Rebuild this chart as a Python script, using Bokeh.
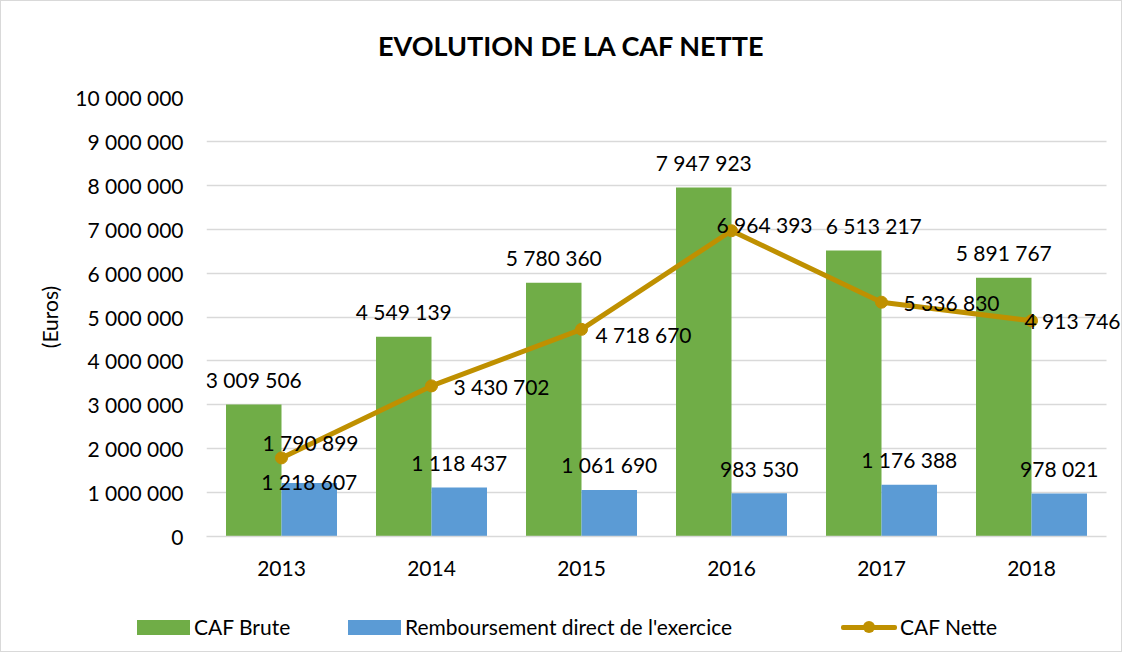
from bokeh.plotting import figure
from bokeh.layouts import column
from bokeh.models import ColumnDataSource, FixedTicker, Range1d, Div
from bokeh.transform import dodge
from bokeh.embed import file_html
from bokeh.resources import INLINE
from bokeh.core.properties import value

# ---- data ----
title_text = "EVOLUTION DE LA CAF NETTE"
years = ["2013", "2014", "2015", "2016", "2017", "2018"]
caf_brute = [3009506, 4549139, 5780360, 7947923, 6513217, 5891767]
remboursement = [1218607, 1118437, 1061690, 983530, 1176388, 978021]
caf_nette = [1790899, 3430702, 4718670, 6964393, 5336830, 4913746]
y_ticks = [0, 1000000, 2000000, 3000000, 4000000, 5000000, 6000000, 7000000, 8000000, 9000000, 10000000]
series_names = ["CAF Brute", "Remboursement direct de l'exercice", "CAF Nette"]

# ---- label placement (style) ----
brute_label_dx = [0, 0, 0, 0, 20, 0]
brute_label_dy = [-25, -25, -25, -25, -25, -25]
remb_label_dy = [-2, -25, -25, -25, -25, -25]
nette_label_dx = [-19, 22, 14, -15, 22, -7]
nette_label_dy = [-15, 1, 5, -6, 0, 0]

def fmt(v):
    return f"{v:,}".replace(",", " ")

FONT = "Lato"
GREEN = "#70AD47"
BLUE = "#5B9BD5"
GOLD = "#BF9000"
GRID = "#D9D9D9"

W = 1120
FRAME_LEFT = 205
CAT_PX = 150  # pixel width of one category slot
TITLE_H = 60

pos = [i + 0.5 for i in range(len(years))]

src = ColumnDataSource(dict(
    x=pos,
    brute=caf_brute,
    remb=remboursement,
    nette=caf_nette,
    brute_lbl=[fmt(v) for v in caf_brute],
    remb_lbl=[fmt(v) for v in remboursement],
    nette_lbl=[fmt(v) for v in caf_nette],
    brute_dx=brute_label_dx,
    brute_dy=brute_label_dy,
    remb_dy=remb_label_dy,
    nette_dx=nette_label_dx,
    nette_dy=nette_label_dy,
))

# ---- title strip (HTML) ----
title_div = Div(
    text=(f'<div style="position:relative;width:{W}px;height:{TITLE_H}px;">'
          f'<span style="position:absolute;left:377px;top:29px;line-height:1.2;white-space:nowrap;'
          f'font-family:Lato;font-size:27px;font-weight:bold;color:#000;">{title_text}</span></div>'),
    width=W, height=TITLE_H, margin=0,
)

p = figure(
    x_range=Range1d(0, (W - FRAME_LEFT) / CAT_PX),
    y_range=Range1d(0, 10000000),
    width=W, height=598 - TITLE_H,
    output_backend="svg", toolbar_location=None,
    min_border_left=FRAME_LEFT, min_border_right=0, min_border_top=96 - TITLE_H, min_border_bottom=63,
)

p.outline_line_color = None
p.background_fill_color = "white"
p.border_fill_color = "white"

# grid
p.xgrid.grid_line_color = None
p.ygrid.grid_line_color = GRID
p.ygrid.grid_line_width = 1.3
p.ygrid.cross_bounds = (0, len(years))

# y axis
p.yaxis.ticker = FixedTicker(ticks=y_ticks)
p.yaxis.major_label_overrides = {t: fmt(t) for t in y_ticks}
p.yaxis.axis_line_color = None
p.yaxis.major_tick_line_color = None
p.yaxis.minor_tick_line_color = None
p.yaxis.major_tick_out = 0
p.yaxis.major_label_standoff = 23
p.yaxis.major_label_text_font = FONT
p.yaxis.major_label_text_font_size = "21px"
p.yaxis.major_label_text_color = "black"
p.yaxis.axis_label = "(Euros)"
p.yaxis.axis_label_text_font = FONT
p.yaxis.axis_label_text_font_size = "21px"
p.yaxis.axis_label_text_font_style = "normal"
p.yaxis.axis_label_text_color = "black"
p.yaxis.axis_label_standoff = 10

# x axis
p.xaxis.ticker = FixedTicker(ticks=pos)
p.xaxis.major_label_overrides = {x: y for x, y in zip(pos, years)}
p.xaxis.bounds = (0, len(years))
p.xaxis.axis_line_color = GRID
p.xaxis.axis_line_width = 1.3
p.xaxis.major_tick_line_color = None
p.xaxis.minor_tick_line_color = None
p.xaxis.major_tick_out = 0
p.xaxis.major_label_standoff = 24
p.xaxis.major_label_text_font = FONT
p.xaxis.major_label_text_font_size = "21px"
p.xaxis.major_label_text_color = "black"

# bars
p.vbar(x=dodge("x", -0.185), top="brute", width=0.37, source=src, fill_color=GREEN, line_color=None)
p.vbar(x=dodge("x", 0.185), top="remb", width=0.37, source=src, fill_color=BLUE, line_color=None)

# line
p.line(x="x", y="nette", source=src, line_color=GOLD, line_width=5)
p.scatter(x="x", y="nette", source=src, size=12, fill_color=GOLD, line_color=GOLD)

# labels
p.text(x=dodge("x", -0.185), y="brute", text="brute_lbl", source=src,
       x_offset="brute_dx", y_offset="brute_dy", text_align="center", text_baseline="middle",
       text_font=value(FONT), text_font_size="21px", text_color="black")
p.text(x=dodge("x", 0.185), y="remb", text="remb_lbl", source=src,
       y_offset="remb_dy", text_align="center", text_baseline="middle",
       text_font=value(FONT), text_font_size="21px", text_color="black")
p.text(x="x", y="nette", text="nette_lbl", source=src,
       x_offset="nette_dx", y_offset="nette_dy", text_align="left", text_baseline="middle",
       text_font=value(FONT), text_font_size="21px", text_color="black")

# ---- legend strip (HTML) ----
txt = "position:absolute;top:15px;line-height:26px;white-space:nowrap;"
legend_html = (
    f'<div style="position:relative;width:{W}px;height:52px;font-family:Lato;font-size:21px;color:#000;">'
    f'<span style="position:absolute;left:136px;top:21px;width:53px;height:15px;background:{GREEN};"></span>'
    f'<span style="{txt}left:193px;">{series_names[0]}</span>'
    f'<span style="position:absolute;left:347px;top:21px;width:53px;height:15px;background:{BLUE};"></span>'
    f'<span style="{txt}left:404px;">{series_names[1]}</span>'
    f'<span style="position:absolute;left:840px;top:26px;width:56px;height:5px;border-radius:2px;background:{GOLD};"></span>'
    f'<span style="position:absolute;left:862px;top:22px;width:12px;height:12px;border-radius:50%;background:{GOLD};"></span>'
    f'<span style="{txt}left:899px;">{series_names[2]}</span>'
    '</div>'
)
legend_div = Div(text=legend_html, width=W, height=52, margin=0)

layout = column(title_div, p, legend_div, spacing=0, styles={"border": "1px solid #D9D9D9"})

open("out.html", "w").write(file_html(layout, INLINE))
